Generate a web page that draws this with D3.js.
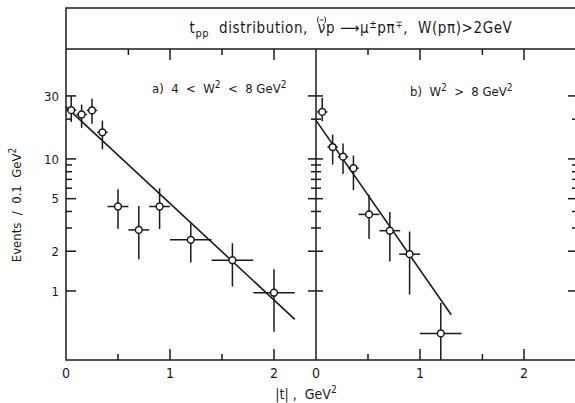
<!DOCTYPE html>
<html>
<head>
<meta charset="utf-8">
<script src="https://cdn.jsdelivr.net/npm/d3@7"></script>
<style>
  html, body { margin: 0; padding: 0; background: #fff; }
  svg { display: block; }
  text { font-family: "DejaVu Sans Condensed", "DejaVu Sans", sans-serif; font-stretch: condensed; fill: #1a1a1a; white-space: pre; }
</style>
</head>
<body>
<svg id="chart" width="575" height="403"></svg>
<script>
// ---- panel a) 4 < W^2 < 8 GeV^2 ----
const aT     = [0.05, 0.15, 0.25, 0.35, 0.5, 0.7, 0.9, 1.2, 1.6, 2.0];
const aHalfT = [0.05, 0.05, 0.05, 0.05, 0.1, 0.1, 0.1, 0.2, 0.2, 0.2];
const aN     = [23.4, 21.7, 23.3, 15.9, 4.36, 2.9, 4.36, 2.44, 1.71, 0.97];
const aNHi   = [30, 25.8, 28.6, 19.5, 5.9, 4.4, 6.0, 3.3, 2.3, 1.46];
const aNLo   = [19, 17.2, 18.5, 11.8, 2.96, 1.74, 2.94, 1.64, 1.08, 0.49];
const aFitT  = [0, 2.2];
const aFitN  = [24.8, 0.61];

// ---- panel b) W^2 > 8 GeV^2 ----
const bT     = [0.06, 0.16, 0.26, 0.36, 0.51, 0.71, 0.9, 1.2];
const bHalfT = [0.05, 0.05, 0.05, 0.05, 0.1, 0.1, 0.1, 0.2];
const bN     = [22.7, 12.3, 10.4, 8.5, 3.8, 2.86, 1.9, 0.477];
const bNHi   = [29, 15.3, 13.1, 10.6, 5.35, 3.96, 2.82, 0.81];
const bNLo   = [19.3, 9.05, 7.7, 5.8, 2.47, 1.67, 0.94, 0.3];
const bFitT  = [0, 1.3];
const bFitN  = [19.6, 0.66];

// ---- axis ticks ----
const yMajor      = [30, 10, 5, 2, 1];
const yMinor      = [20, 9, 8, 7, 6, 4, 3];
const yLabels     = ["30", "10", "5", "2", "1"];
const xLabelVals  = [0, 1, 2];
const aBottomTicks = [0.5, 1, 1.5, 2];
const aTopTicks    = [0.6, 1, 1.5, 2];
const bBottomTicks = [0.5, 1, 1.6, 2];
const bTopTicks    = [0.5, 1, 1.6, 2];
const majorX = [1, 2];

const ink = "#1a1a1a";
const svg = d3.select("#chart");

const plotTop = 49, plotBottom = 360, frameTop = 8;
const y = d3.scaleLog().domain([0.3, 68]).range([plotBottom, plotTop]);
const xa = d3.scaleLinear().domain([0, 2.4]).range([66, 315.6]);
const xb = d3.scaleLinear().domain([0, 2.5]).range([316, 576]);

// frame and title box
const g = svg.append("g").attr("stroke", ink).attr("stroke-width", 1.5).attr("fill", "none");
g.append("rect").attr("x", 66).attr("y", frameTop).attr("width", 512).attr("height", plotBottom - frameTop);
g.append("line").attr("x1", 66).attr("x2", 578).attr("y1", plotTop).attr("y2", plotTop);
g.append("line").attr("x1", xb(0)).attr("x2", xb(0)).attr("y1", plotTop).attr("y2", plotBottom);

// y ticks
function yTicks(vals, x0, left, right) {
  g.selectAll(null).data(vals).enter().append("line")
    .attr("x1", x0 - left).attr("x2", x0 + right)
    .attr("y1", d => y(d)).attr("y2", d => y(d));
}
yTicks(yMajor, xa(0), 0, 10);
yTicks(yMinor, xa(0), 0, 6);
yTicks(yMajor, xb(0), 8, 7);
yTicks(yMinor, xb(0), 5, 5);
yTicks(yMajor, 576, 8, 2);
yTicks(yMinor, 576, 4, 2);

// x ticks
function xTicks(vals, sc, y0, dir) {
  g.selectAll(null).data(vals).enter().append("line")
    .attr("x1", d => sc(d)).attr("x2", d => sc(d))
    .attr("y1", y0).attr("y2", d => y0 + dir * (majorX.includes(d) ? 11 : 6));
}
xTicks(aBottomTicks, xa, plotBottom, -1);
xTicks(bBottomTicks, xb, plotBottom, -1);
xTicks(aTopTicks, xa, plotTop, 1);
xTicks(bTopTicks, xb, plotTop, 1);

// tick labels
svg.selectAll(null).data(yMajor).enter().append("text")
  .attr("x", 59).attr("y", d => y(d)).attr("dy", "0.36em")
  .attr("text-anchor", "end").attr("font-size", 13)
  .text((d, i) => yLabels[i]);
[xa, xb].forEach(sc => {
  svg.selectAll(null).data(xLabelVals).enter().append("text")
    .attr("x", d => sc(d)).attr("y", 378)
    .attr("text-anchor", "middle").attr("font-size", 14)
    .text(d => d);
});

// fit lines and data
function panel(sc, t, half, n, hi, lo, fitT, fitN) {
  const pg = svg.append("g");
  const line = d3.line().x(d => sc(d[0])).y(d => y(d[1]));
  pg.append("path").datum(fitT.map((v, i) => [v, fitN[i]]))
    .attr("d", line).attr("stroke", ink).attr("stroke-width", 1.6).attr("fill", "none");
  const pts = t.map((v, i) => ({ t: v, h: half[i], n: n[i], hi: hi[i], lo: lo[i] }));
  const e = pg.selectAll(null).data(pts).enter().append("g")
    .attr("stroke", ink).attr("stroke-width", 1.5);
  e.append("line").attr("x1", d => sc(d.t)).attr("x2", d => sc(d.t))
    .attr("y1", d => y(d.hi)).attr("y2", d => Math.min(y(d.lo), plotBottom));
  e.append("line").attr("x1", d => sc(d.t - d.h)).attr("x2", d => sc(d.t + d.h))
    .attr("y1", d => y(d.n)).attr("y2", d => y(d.n));
  e.append("circle").attr("cx", d => sc(d.t)).attr("cy", d => y(d.n)).attr("r", 3.4)
    .attr("fill", "#fff");
}
panel(xa, aT, aHalfT, aN, aNHi, aNLo, aFitT, aFitN);
panel(xb, bT, bHalfT, bN, bNHi, bNLo, bFitT, bFitN);

// title
const title = svg.append("text").attr("x", 351).attr("y", 33)
  .attr("text-anchor", "middle").attr("font-size", 15).attr("letter-spacing", 0.6);
title.append("tspan").text("t");
title.append("tspan").attr("font-size", 11).attr("dy", 4).text("pp");
title.append("tspan").attr("dy", -4).text("  distribution,  ");
title.append("tspan").text("ν");
title.append("tspan").text("p ");
title.append("tspan").text("⟶");
title.append("tspan").text("μ");
title.append("tspan").attr("font-size", 10).attr("dy", -5).text("±");
title.append("tspan").attr("dy", 5).text("pπ");
title.append("tspan").attr("font-size", 10).attr("dy", -5).text("∓");
title.append("tspan").attr("dy", 5).text(",  W(pπ)>2GeV");

// bracketed bar "(–)" over the neutrino symbol, drawn as strokes
{
  const node = title.node();
  const idx = node.textContent.indexOf("ν");
  const ext = node.getExtentOfChar(idx);
  const cx = ext.x + ext.width / 2 - 0.3;
  const cy = ext.y + 1;
  const acc = svg.append("g").attr("stroke", ink).attr("stroke-width", 0.9).attr("fill", "none");
  acc.append("path").attr("d", `M${cx - 3.2},${cy - 3.5} Q${cx - 5},${cy} ${cx - 3.2},${cy + 3.5}`);
  acc.append("path").attr("d", `M${cx + 3.2},${cy - 3.5} Q${cx + 5},${cy} ${cx + 3.2},${cy + 3.5}`);
  acc.append("line").attr("x1", cx - 2).attr("x2", cx + 2).attr("y1", cy).attr("y2", cy);
}

// panel labels
function supLabel(x, yy, parts) {
  const t = svg.append("text").attr("x", x).attr("y", yy).attr("font-size", 13);
  parts.forEach(p => {
    if (p.sup) t.append("tspan").attr("font-size", 10).attr("dy", -5).text(p.s);
    else t.append("tspan").attr("dy", p.after ? 5 : 0).text(p.s);
  });
  return t;
}
supLabel(152, 93, [{ s: "a)  4  <  W" }, { s: "2", sup: true }, { s: "  <  8 GeV", after: true }, { s: "2", sup: true }]);
supLabel(410, 96, [{ s: "b)  W" }, { s: "2", sup: true }, { s: "  >  8 GeV", after: true }, { s: "2", sup: true }]);

// axis titles
const xt = svg.append("text").attr("x", 306).attr("y", 399).attr("text-anchor", "middle").attr("font-size", 14);
xt.append("tspan").text("|t| ,  GeV");
xt.append("tspan").attr("font-size", 10).attr("dy", -6).text("2");

const yt = svg.append("text").attr("transform", "translate(21,205) rotate(-90)")
  .attr("text-anchor", "middle").attr("font-size", 13);
yt.append("tspan").text("Events  /  0.1  GeV");
yt.append("tspan").attr("font-size", 10).attr("dy", -5).text("2");
</script>
</body>
</html>
